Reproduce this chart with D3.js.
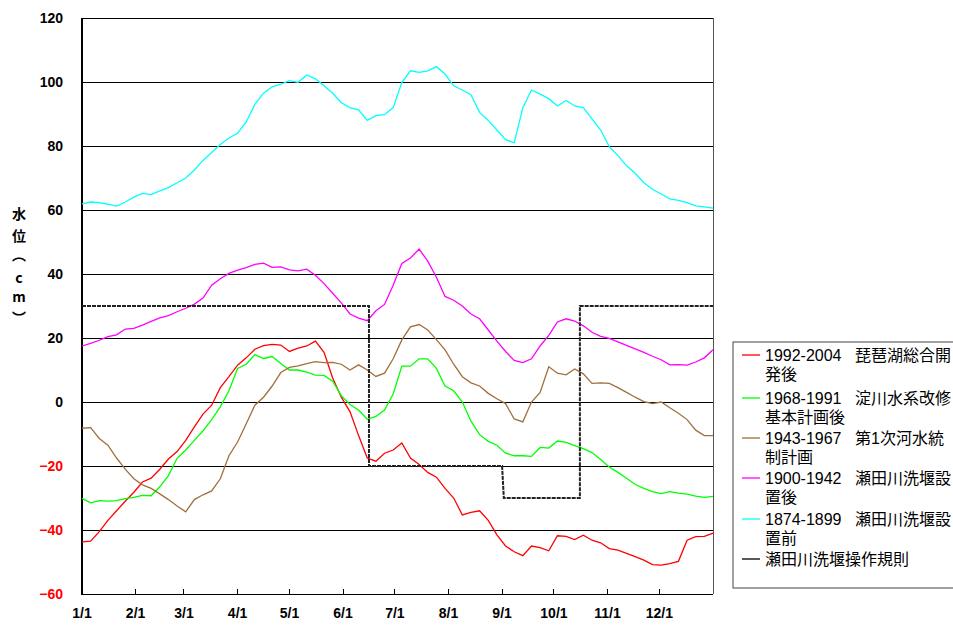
<!DOCTYPE html>
<html>
<head>
<meta charset="utf-8">
<script src="https://cdn.jsdelivr.net/npm/d3@7"></script>
<style>
  body { margin: 0; background: #fff; }
  svg { display: block; }
  .tick-lbl { font-family: "Liberation Sans", "Noto Sans CJK JP", sans-serif; font-weight: bold; font-size: 14px; }
  .leg { font-family: "Liberation Sans", "Noto Sans CJK JP", sans-serif; font-size: 16px; fill: #000; }
</style>
</head>
<body>
<div id="g-container"></div>
<script>

	// day of year (0 = 1/1), one value every 5 days
	var days = d3.range(0, 366, 5);

	var monthDays = [0, 31, 59, 90, 120, 151, 181, 212, 243, 273, 304, 334];
	var monthLabels = ["1/1", "2/1", "3/1", "4/1", "5/1", "6/1", "7/1", "8/1", "9/1", "10/1", "11/1", "12/1"];
	var yTicks = [120, 100, 80, 60, 40, 20, 0, -20, -40, -60];

	var red = [-43.7, -43.5, -40.5, -37.0, -34.0, -31.0, -28.2, -25.0, -23.8, -21.0, -17.8, -15.5, -12.0, -7.8, -3.8, -1.0, 4.5, 7.9, 11.5, 13.8,
		16.5, 17.6, 18.0, 17.8, 15.8, 16.8, 17.5, 19.0, 15.5, 7.5, 1.5, -3.0, -10.5, -17.5, -18.5, -16.0, -15.0, -12.8, -17.5, -19.5,
		-22.0, -23.5, -27.0, -30.0, -35.3, -34.5, -34.0, -37.0, -41.5, -45.0, -46.8, -48.0, -45.0, -45.5, -46.5, -41.8, -42.0, -43.0, -41.6, -43.2,
		-44.0, -45.8, -46.3, -47.3, -48.3, -49.4, -50.8, -51.0, -50.5, -49.8, -43.2, -42.1, -42.0, -41.0];

	var green = [-30.1, -31.5, -30.8, -31.0, -30.8, -30.2, -29.8, -29.2, -29.3, -26.5, -23.0, -17.6, -15.0, -12.0, -9.0, -5.5, -1.5, 3.5, 10.5, 11.8,
		14.8, 13.6, 14.2, 12.0, 10.0, 10.0, 9.3, 8.4, 8.3, 6.5, 2.0, -0.8, -2.5, -5.4, -4.5, -2.5, 2.5, 11.2, 11.2, 13.5,
		13.5, 10.5, 5.0, 3.5, 0.0, -6.0, -10.2, -12.3, -13.5, -16.0, -16.8, -16.8, -17.0, -14.2, -14.4, -12.2, -12.6, -13.6, -14.6, -15.8,
		-18.0, -20.3, -22.0, -23.8, -25.8, -27.0, -28.0, -28.6, -28.0, -28.5, -28.8, -29.4, -29.8, -29.5];

	var brown = [-8.2, -8.0, -11.4, -13.5, -17.5, -21.0, -24.0, -25.9, -27.0, -28.7, -30.5, -32.5, -34.3, -30.5, -29.0, -27.8, -24.0, -16.8, -12.5, -6.8,
		-1.0, 1.5, 5.0, 9.2, 10.8, 11.3, 12.0, 12.6, 12.3, 12.4, 11.8, 10.0, 11.6, 10.0, 8.0, 9.0, 13.5, 19.4, 23.5, 24.2,
		22.5, 19.5, 16.3, 11.8, 7.9, 6.0, 5.0, 2.7, 1.0, -0.5, -5.3, -6.2, 0.0, 3.0, 11.0, 9.0, 8.5, 10.3, 8.8, 5.8,
		6.0, 5.8, 4.5, 3.0, 1.5, 0.1, -0.5, 0.0, -1.8, -3.5, -5.5, -8.8, -10.5, -10.5];

	var magenta = [17.5, 18.3, 19.3, 20.4, 21.0, 22.8, 23.0, 24.0, 25.2, 26.3, 27.0, 28.2, 29.3, 30.6, 32.5, 36.5, 38.5, 40.2, 41.2, 42.0,
		43.0, 43.4, 42.1, 42.2, 41.3, 41.0, 41.5, 39.6, 37.0, 34.0, 31.0, 27.5, 26.2, 25.4, 28.5, 30.5, 36.5, 43.3, 45.0, 47.8,
		44.0, 39.0, 33.0, 31.8, 30.0, 27.5, 26.0, 22.5, 19.0, 15.8, 13.0, 12.3, 13.5, 17.5, 20.8, 25.0, 26.0, 25.3, 23.8, 21.8,
		20.5, 19.9, 18.8, 17.7, 16.6, 15.5, 14.3, 13.2, 11.6, 11.7, 11.5, 12.5, 13.8, 16.3];

	var cyan = [61.9, 62.5, 62.3, 61.8, 61.2, 62.5, 64.0, 65.2, 64.8, 66.0, 67.0, 68.5, 70.0, 72.5, 75.5, 78.0, 80.5, 82.5, 84.0, 87.5,
		93.0, 96.5, 98.5, 99.3, 100.4, 99.9, 102.2, 101.0, 98.8, 96.5, 93.5, 92.0, 91.3, 88.0, 89.5, 89.8, 92.0, 99.8, 103.5, 103.0,
		103.5, 104.8, 102.5, 98.8, 97.5, 96.0, 90.5, 88.0, 85.0, 82.0, 81.0, 92.0, 97.5, 96.2, 94.8, 92.5, 94.2, 92.5, 92.0, 88.5,
		85.0, 79.8, 77.0, 73.8, 71.5, 68.5, 66.5, 65.0, 63.5, 63.0, 62.3, 61.3, 61.0, 60.6];

	// 瀬田川洗堰操作規則 (step line)
	var ruleDays = [0, 166, 166, 243, 244, 288, 288, 365];
	var ruleVals = [30, 30, -20, -20, -30, -30, 30, 30];

	var series = [
		{period: "1992-2004", name: ["琵琶湖総合開", "発後"], color: "#ff0000", values: red},
		{period: "1968-1991", name: ["淀川水系改修", "基本計画後"], color: "#00ff00", values: green},
		{period: "1943-1967", name: ["第1次河水統", "制計画"], color: "#a0703c", values: brown},
		{period: "1900-1942", name: ["瀬田川洗堰設", "置後"], color: "#ff00ff", values: magenta},
		{period: "1874-1899", name: ["瀬田川洗堰設", "置前"], color: "#00ffff", values: cyan}
	];

	var W = 953, H = 625;
	var svg = d3.select("#g-container").append("svg").attr("width", W).attr("height", H);

	var x = d3.scaleLinear().domain([0, 365]).range([82, 713]);
	var y = d3.scaleLinear().domain([-60, 120]).range([594, 18]);

	// horizontal grid
	svg.append("g").selectAll("line").data(yTicks).enter().append("line")
		.attr("x1", x(0)).attr("x2", x(365))
		.attr("y1", function(d){ return y(d); }).attr("y2", function(d){ return y(d); })
		.attr("stroke", "#000").attr("stroke-width", 1)
		.attr("shape-rendering", "crispEdges");

	// right border
	svg.append("line").attr("x1", x(365)).attr("x2", x(365)).attr("y1", y(120)).attr("y2", y(-60))
		.attr("stroke", "#555").attr("stroke-width", 1).attr("shape-rendering", "crispEdges");

	// y labels
	svg.append("g").selectAll("text").data(yTicks).enter().append("text")
		.attr("class", "tick-lbl")
		.attr("x", 63).attr("y", function(d){ return y(d) + 5; })
		.attr("text-anchor", "end")
		.attr("fill", function(d){ return d < 0 ? "#ff0000" : "#000"; })
		.text(function(d){ return d < 0 ? "\u2212" + Math.abs(d) : d; });

	// x axis: ticks pointing up, labels under
	var xg = svg.append("g");
	xg.selectAll("line").data(monthDays.slice(1)).enter().append("line")
		.attr("x1", function(d){ return x(d); }).attr("x2", function(d){ return x(d); })
		.attr("y1", y(-60)).attr("y2", y(-60) - 5)
		.attr("stroke", "#000").attr("shape-rendering", "crispEdges");
	xg.selectAll("text").data(monthDays).enter().append("text")
		.attr("class", "tick-lbl")
		.attr("x", function(d){ return x(d); }).attr("y", 618)
		.attr("text-anchor", "middle")
		.text(function(d, i){ return monthLabels[i]; });

	// left axis
	svg.append("line").attr("x1", x(0)).attr("x2", x(0)).attr("y1", y(120)).attr("y2", y(-60) + 1)
		.attr("stroke", "#000").attr("stroke-width", 2);

	// y axis title, stacked characters
	var title = [["水", 213], ["位", 235], ["\uFE35", 254], ["c", 277], ["m", 296], ["\uFE36", 317]];
	svg.append("g").selectAll("text").data(title).enter().append("text")
		.attr("x", 19).attr("y", function(d){ return d[1]; })
		.attr("text-anchor", "middle").attr("dominant-baseline", "central")
		.style("font-family", "\"Noto Sans CJK JP\", sans-serif").style("font-weight", "bold").style("font-size", "14px")
		.text(function(d){ return d[0]; });

	var line = d3.line()
		.x(function(d, i){ return x(days[i]); })
		.y(function(d){ return y(d); });

	series.forEach(function(s){
		svg.append("path").datum(s.values)
			.attr("d", line)
			.attr("fill", "none").attr("stroke", s.color).attr("stroke-width", 1.3);
	});

	var ruleLine = d3.line()
		.x(function(d, i){ return x(ruleDays[i]); })
		.y(function(d){ return y(d); });
	svg.append("path").datum(ruleVals)
		.attr("d", ruleLine)
		.attr("fill", "none").attr("stroke", "#222").attr("stroke-width", 2)
		.attr("stroke-dasharray", "4,1");

	// legend
	var lg = svg.append("g");
	lg.append("rect").attr("x", 733).attr("y", 342).attr("width", 240).attr("height", 246)
		.attr("fill", "#fff").attr("stroke", "#444").attr("stroke-width", 1);

	var legendItems = series.map(function(s){ return {period: s.period, name: s.name, color: s.color}; });
	legendItems.push({period: null, name: ["瀬田川洗堰操作規則"], color: "#000"});

	var rowY = [355, 398, 438, 478, 519, 559];
	legendItems.forEach(function(d, i){
		var cy = rowY[i];
		lg.append("line").attr("x1", 742).attr("x2", 760).attr("y1", cy).attr("y2", cy)
			.attr("stroke", d.color).attr("stroke-width", 1.3);
		var t1 = lg.append("text").attr("class", "leg").attr("x", 765).attr("y", cy + 6);
		if(d.period){
			t1.append("tspan").text(d.period);
			t1.append("tspan").attr("x", 855).text(d.name[0]);
			lg.append("text").attr("class", "leg").attr("x", 765).attr("y", cy + 25).text(d.name[1]);
		} else {
			t1.text(d.name[0]);
		}
	});

</script>
</body>
</html>
